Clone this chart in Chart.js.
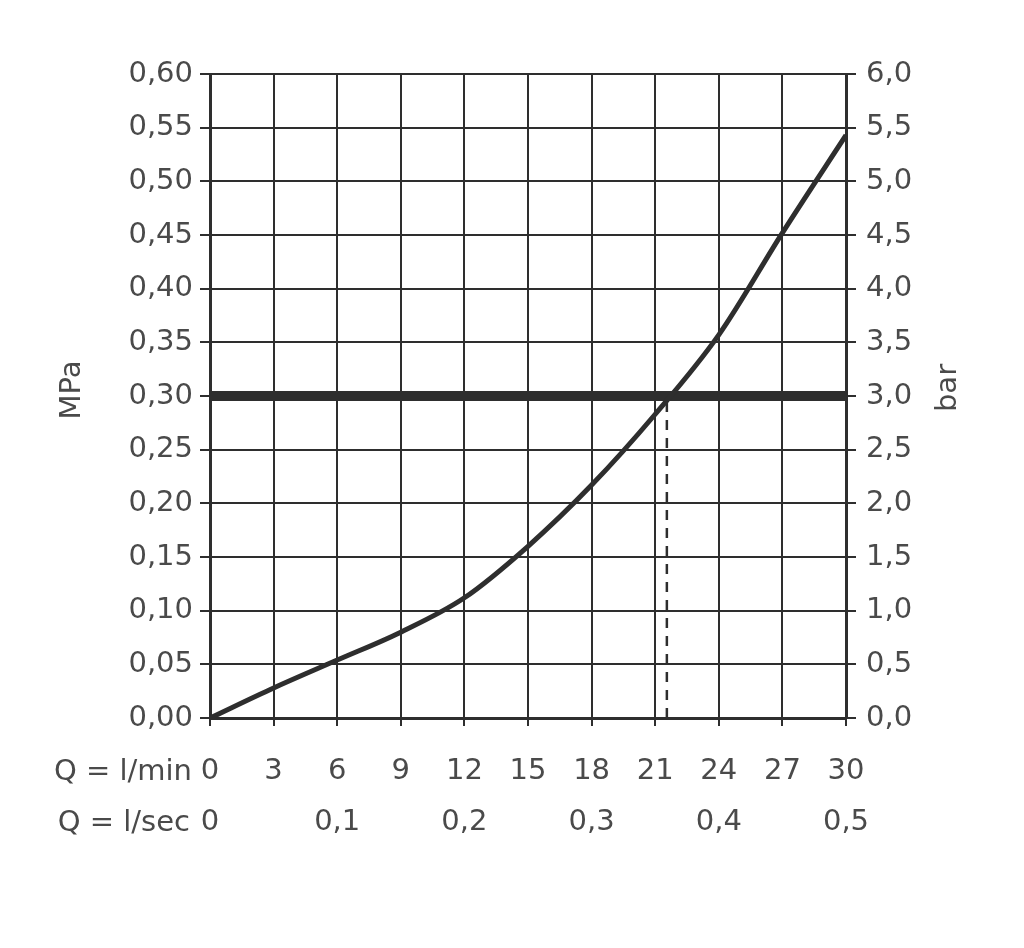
<!DOCTYPE html>
<html>
<head>
<meta charset="utf-8">
<script src="https://cdn.jsdelivr.net/npm/chart.js@4"></script>
<style>
  html, body { margin: 0; padding: 0; background: #fff; }
  #wrap { width: 1024px; height: 948px; }
</style>
</head>
<body>
<div id="wrap"><canvas id="flowChart"></canvas></div>
<script>
// Flow rate (l/min) and pressure loss (MPa)
const flowLpm = [0, 3, 6, 9, 12, 15, 18, 21, 24, 27, 30];
const pressureMPa = [0, 0.028, 0.054, 0.080, 0.112, 0.160, 0.217, 0.283, 0.357, 0.452, 0.543];

// Reference lines
const refPressure = 0.30;
const refFlow = 21.55;

// Second row of x labels (l/sec), one per l/min tick
const secLabels = ['0', '', '0,1', '', '0,2', '', '0,3', '', '0,4', '', '0,5'];

const ink = '#2e2e2e';
const textGrey = '#4a4a4a';
const fontFamily = '"DejaVu Sans", sans-serif';

// Extra texts: row captions and rotated unit titles
const textPlugin = {
  id: 'extraText',
  afterDraw(chart) {
    const ctx = chart.ctx;
    const area = chart.chartArea;
    ctx.save();
    ctx.fillStyle = textGrey;
    ctx.font = '29px ' + fontFamily;
    ctx.textAlign = 'right';
    ctx.textBaseline = 'middle';
    ctx.fillText('Q = l/min', area.left - 18, 772);
    ctx.fillText('Q = l/sec', area.left - 20, 823);

    ctx.textAlign = 'center';
    ctx.translate(72, 390);
    ctx.rotate(-Math.PI / 2);
    ctx.fillText('MPa', 0, 0);
    ctx.restore();

    ctx.save();
    ctx.fillStyle = textGrey;
    ctx.font = '29px ' + fontFamily;
    ctx.textAlign = 'center';
    ctx.textBaseline = 'middle';
    ctx.translate(948, 388);
    ctx.rotate(-Math.PI / 2);
    ctx.fillText('bar', 0, 0);
    ctx.restore();
  }
};

new Chart(document.getElementById('flowChart'), {
  type: 'line',
  data: {
    datasets: [
      {
        data: flowLpm.map((q, i) => ({ x: q, y: pressureMPa[i] })),
        borderColor: ink,
        borderWidth: 5,
        pointRadius: 0,
        cubicInterpolationMode: 'monotone',
        yAxisID: 'y'
      },
      {
        data: [{ x: 0, y: refPressure }, { x: 30, y: refPressure }],
        borderColor: ink,
        borderWidth: 10,
        pointRadius: 0,
        yAxisID: 'y'
      },
      {
        data: [{ x: refFlow, y: 0 }, { x: refFlow, y: refPressure }],
        borderColor: ink,
        borderWidth: 2.5,
        borderDash: [10, 8],
        pointRadius: 0,
        yAxisID: 'y'
      }
    ]
  },
  options: {
    responsive: true,
    maintainAspectRatio: false,
    animation: false,
    layout: { padding: { top: 74, left: 0, right: 0, bottom: 0 } },
    plugins: {
      legend: { display: false },
      tooltip: { enabled: false }
    },
    scales: {
      x: {
        type: 'linear',
        min: 0,
        max: 30,
        afterFit: scale => { scale.height = 230; },
        border: { color: ink, width: 3 },
        grid: { color: ink, lineWidth: 2, tickLength: 8 },
        ticks: {
          stepSize: 3,
          padding: 20,
          color: textGrey,
          font: { family: fontFamily, size: 29, lineHeight: 1.76 },
          callback: (value, index) => [String(value), secLabels[index]]
        }
      },
      y: {
        position: 'left',
        min: 0,
        max: 0.6,
        afterFit: scale => { scale.width = 210; },
        border: { color: ink, width: 3 },
        grid: { color: ink, lineWidth: 2, tickLength: 10 },
        ticks: {
          stepSize: 0.05,
          padding: 7,
          color: textGrey,
          font: { family: fontFamily, size: 29 },
          callback: value => value.toFixed(2).replace('.', ',')
        }
      },
      yBar: {
        position: 'right',
        min: 0,
        max: 6,
        afterFit: scale => { scale.width = 178; },
        border: { color: ink, width: 3 },
        grid: { color: ink, lineWidth: 2, tickLength: 10, drawOnChartArea: false },
        ticks: {
          stepSize: 0.5,
          padding: 10,
          color: textGrey,
          font: { family: fontFamily, size: 29 },
          callback: value => value.toFixed(1).replace('.', ',')
        }
      }
    }
  },
  plugins: [textPlugin]
});
</script>
</body>
</html>
